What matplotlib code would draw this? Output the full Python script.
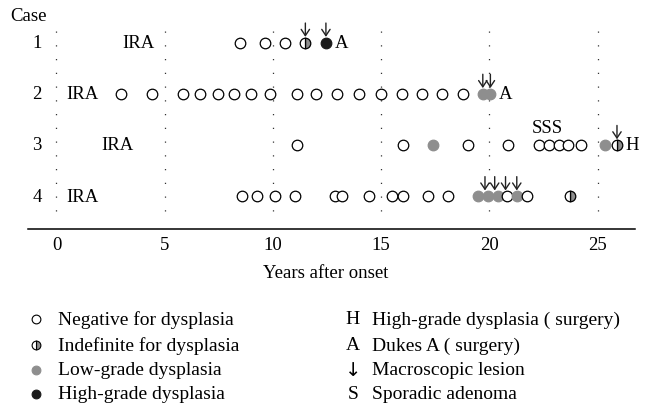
import matplotlib
matplotlib.use("Agg")
import matplotlib.pyplot as plt

plt.rcParams['font.family'] = ['Liberation Serif', 'DejaVu Serif']

# ---------------- data (years after onset) ----------------
cases = [1, 2, 3, 4]
case_labels = ["1", "2", "3", "4"]
xticks = [0, 5, 10, 15, 20, 25]

negative = {
    1: [8.5, 9.65, 10.55],
    2: [3.0, 4.4, 5.85, 6.65, 7.45, 8.2, 9.0, 9.85, 11.1, 12.0, 12.95, 14.0, 14.98,
        15.95, 16.88, 17.8, 18.8],
    3: [11.1, 16.0, 19.0, 20.88, 22.3, 22.75, 23.2, 23.65, 24.25],
    4: [8.56, 9.25, 10.1, 11.0, 12.87, 13.2, 14.45, 15.5, 16.03, 17.15, 18.1, 20.8, 21.76],
}
indefinite = {1: [11.5], 2: [], 3: [25.9], 4: [23.75]}
low_grade = {1: [], 2: [19.7, 20.05], 3: [17.4, 25.35], 4: [19.5, 19.95, 20.42, 21.27]}
high_grade = {1: [12.45], 2: [], 3: [], 4: []}

arrows = {1: [11.5, 12.45], 2: [19.7, 20.05], 3: [25.9], 4: [19.8, 20.25, 20.75, 21.27]}
ira_pos = {1: 3.8, 2: 1.2, 3: 2.8, 4: 1.2}
end_labels = {1: ("A", 13.15), 2: ("A", 20.75), 3: ("H", 26.6)}
sporadic = {3: 22.7}

legend_left = ["Negative for dysplasia", "Indefinite for dysplasia",
               "Low-grade dysplasia", "High-grade dysplasia"]
legend_right_sym = ["H", "A", "\u2193", "S"]
legend_right = ["High-grade dysplasia ( surgery)", "Dukes A ( surgery)",
                "Macroscopic lesion", "Sporadic adenoma"]

# ---------------- styling ----------------
W, H = 651, 406
GREY = "#8e8e8e"
BLACK = "#1a1a1a"
FS = 13.5
LFS = 14
MS = 7.6
MEW = 0.9

fig = plt.figure(figsize=(W / 100, H / 100), dpi=100)
axis_px = 230
ax = fig.add_axes([0, (H - axis_px) / H, 1, axis_px / H])
x0px, ppy = 56.5, 21.64
row0, rowh = 43.5, 51.2
ax.set_xlim(-x0px / ppy, (W - x0px) / ppy)
ax.set_ylim(1 + (axis_px - row0) / rowh, 1 - row0 / rowh)

for s in ["top", "left", "right"]:
    ax.spines[s].set_visible(False)
ax.spines["bottom"].set_bounds(-1.3, 26.75)
ax.spines["bottom"].set_linewidth(1.1)
ax.set_yticks([])
ax.set_xticks(xticks)
ax.set_xticklabels([str(t) for t in xticks])
ax.tick_params(axis="x", length=0, pad=5, labelsize=FS)

# dotted gridlines
for t in xticks:
    ax.plot([t, t], [0.78, 4.5], color="#333333", lw=0.9,
            linestyle=(0, (1, 10)), zorder=1)

def style(kind):
    if kind == "neg":
        return dict(marker="o", mfc="white", mec="black", fillstyle="full")
    if kind == "ind":
        return dict(marker="o", mfc=GREY, mfcalt="white", mec="black", fillstyle="right")
    if kind == "low":
        return dict(marker="o", mfc=GREY, mec=GREY, fillstyle="full")
    return dict(marker="o", mfc=BLACK, mec=BLACK, fillstyle="full")

for c in cases:
    pts = ([(x, "neg") for x in negative[c]] + [(x, "ind") for x in indefinite[c]] +
           [(x, "low") for x in low_grade[c]] + [(x, "high") for x in high_grade[c]])
    pts.sort()
    for i, (x, k) in enumerate(pts):
        ax.plot([x], [c], linestyle="none", ms=MS, mew=MEW, zorder=3 + i * 0.01, **style(k))
    ax.text(-0.9, c, case_labels[c - 1], ha="center", va="center", fontsize=FS)
    ax.text(ira_pos[c], c, "IRA", ha="center", va="center", fontsize=FS)
    for xa in arrows[c]:
        ax.annotate("", xy=(xa, c - 0.11), xytext=(xa, c - 0.38),
                    arrowprops=dict(arrowstyle="->,head_length=0.45,head_width=0.3",
                                    lw=1.0, color="#222222", shrinkA=0, shrinkB=0),
                    zorder=5)
    if c in end_labels:
        lab, xl = end_labels[c]
        ax.text(xl, c, lab, ha="center", va="center", fontsize=FS)
    if c in sporadic:
        ax.text(sporadic[c], c - 0.34, "SSS", ha="center", va="center", fontsize=FS)

ax.text(-1.3, 0.48, "Case", ha="center", va="center", fontsize=FS)
ax.set_xlabel("Years after onset", fontsize=FS, labelpad=8)

# ---------------- legend (pixel overlay) ----------------
lax = fig.add_axes([0, 0, 1, 1], facecolor="none")
lax.set_xlim(0, W)
lax.set_ylim(H, 0)
lax.axis("off")
rows_y = [320, 346, 371, 395]
kinds = ["neg", "ind", "low", "high"]
for y, k, lab in zip(rows_y, kinds, legend_left):
    lax.plot([36], [y], linestyle="none", ms=6.3, mew=0.8, **style(k))
    lax.text(58, y, lab, ha="left", va="center", fontsize=LFS)
for y, sym, lab in zip(rows_y, legend_right_sym, legend_right):
    lax.text(353, y, sym, ha="center", va="center", fontsize=LFS,
             family=["DejaVu Sans"] if sym == "\u2193" else None)
    lax.text(372, y, lab, ha="left", va="center", fontsize=LFS)

fig.savefig("out.png", dpi=100)
